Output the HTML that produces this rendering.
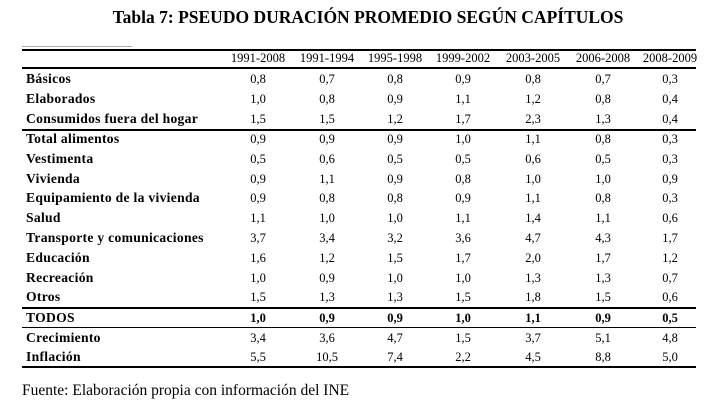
<!DOCTYPE html>
<html><head><meta charset="utf-8"><style>
body{margin:0;width:718px;height:407px;background:#fff;font-family:"Liberation Serif",serif;color:#000;position:relative;overflow:hidden}
.t{position:absolute;left:0;width:718px;top:7px;text-align:center;font-weight:bold;font-size:17.5px;padding-left:18px;box-sizing:border-box}
.r{position:absolute;left:22px;width:674px;height:18px;font-size:12.5px;line-height:18px}
.r span{position:absolute;top:0;width:68px;text-align:center}
.r .l{left:4px;width:auto;text-align:left;font-weight:bold;font-size:13.6px;letter-spacing:0.3px}
.h{position:absolute;left:22px;width:674px;background:#000}
.b span{font-weight:bold}
</style></head><body>
<div class="t">Tabla 7: PSEUDO DURACIÓN PROMEDIO SEGÚN CAPÍTULOS</div>
<div class="h" style="top:46px;width:110px;height:1px;background:#aaa"></div>
<div class="h" style="top:49px;height:2px"></div>
<div class="h" style="top:67px;height:2px"></div>
<div class="h" style="top:129px;height:2px"></div>
<div class="h" style="top:307px;height:2px"></div>
<div class="h" style="top:327px;height:1px"></div>
<div class="h" style="top:366px;height:2px"></div>
<div id="rows"></div>
<div style="position:absolute;left:22px;top:382px;font-size:15.5px">Fuente: Elaboración propia con información del INE</div>
<script>
var cols=[236,305,373,441,511,581,648];
var data=[
[49,"",["1991-2008","1991-1994","1995-1998","1999-2002","2003-2005","2006-2008","2008-2009"]],
[70,"Básicos","0,8 0,7 0,8 0,9 0,8 0,7 0,3"],
[90,"Elaborados","1,0 0,8 0,9 1,1 1,2 0,8 0,4"],
[110,"Consumidos fuera del hogar","1,5 1,5 1,2 1,7 2,3 1,3 0,4"],
[130,"Total alimentos","0,9 0,9 0,9 1,0 1,1 0,8 0,3"],
[150,"Vestimenta","0,5 0,6 0,5 0,5 0,6 0,5 0,3"],
[170,"Vivienda","0,9 1,1 0,9 0,8 1,0 1,0 0,9"],
[189,"Equipamiento de la vivienda","0,9 0,8 0,8 0,9 1,1 0,8 0,3"],
[209,"Salud","1,1 1,0 1,0 1,1 1,4 1,1 0,6"],
[229,"Transporte y comunicaciones","3,7 3,4 3,2 3,6 4,7 4,3 1,7"],
[249,"Educación","1,6 1,2 1,5 1,7 2,0 1,7 1,2"],
[269,"Recreación","1,0 0,9 1,0 1,0 1,3 1,3 0,7"],
[288,"Otros","1,5 1,3 1,3 1,5 1,8 1,5 0,6"],
[309,"TODOS","1,0 0,9 0,9 1,0 1,1 0,9 0,5",1],
[329,"Crecimiento","3,4 3,6 4,7 1,5 3,7 5,1 4,8"],
[348,"Inflación","5,5 10,5 7,4 2,2 4,5 8,8 5,0"]];
var h="";
data.forEach(function(d){var v=typeof d[2]=="string"?d[2].split(" "):d[2];
h+='<div class="r'+(d[3]?' b':'')+'" style="top:'+d[0]+'px"><span class="l">'+d[1]+'</span>';
v.forEach(function(x,i){h+='<span style="left:'+(cols[i]-22-34+22)+'px">'+x+'</span>';});
h+='</div>';});
document.getElementById("rows").innerHTML=h;
</script>
</body></html>
